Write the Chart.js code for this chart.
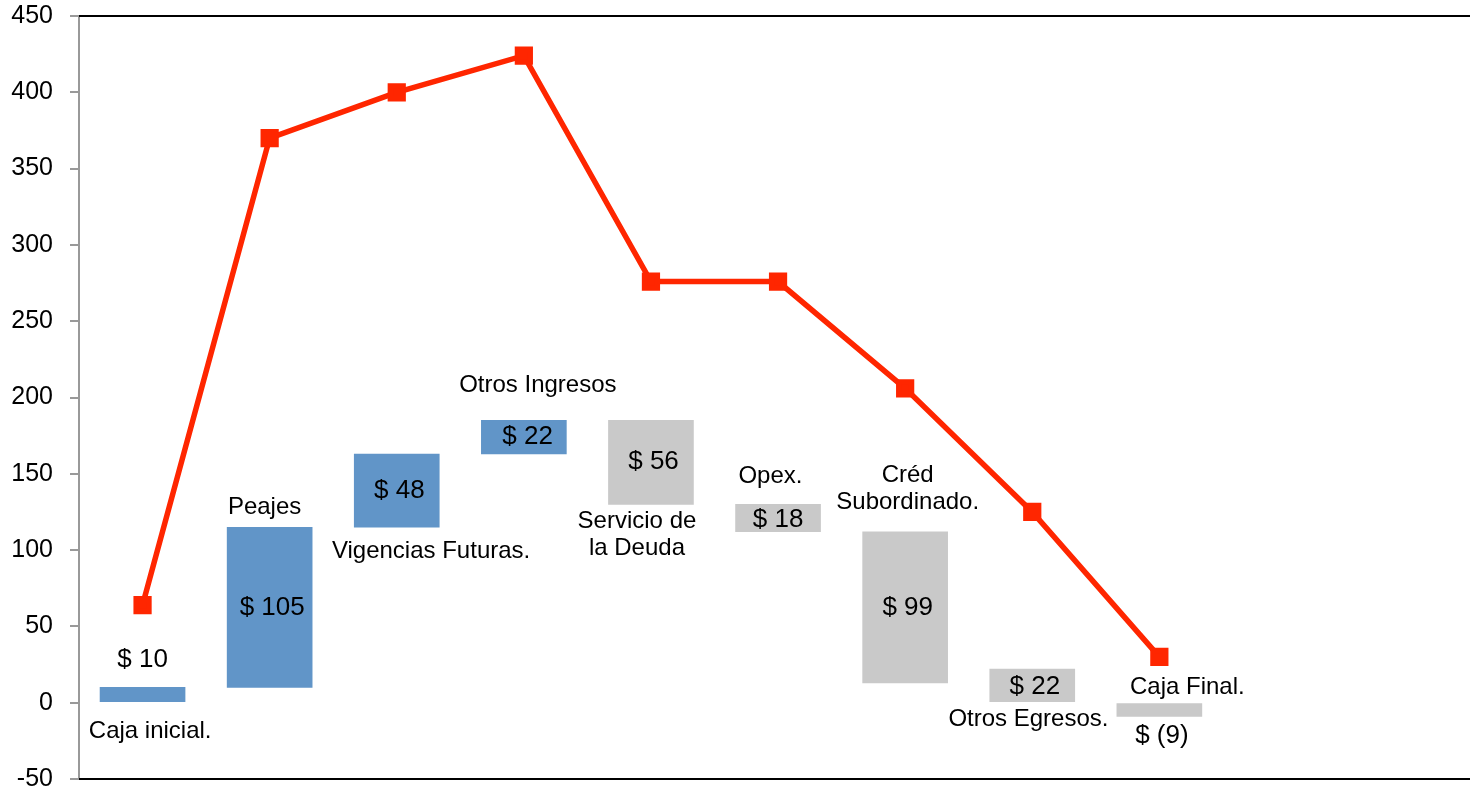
<!DOCTYPE html>
<html>
<head>
<meta charset="utf-8">
<script src="https://cdn.jsdelivr.net/npm/chart.js@4"></script>
<style>
  html, body { margin: 0; padding: 0; background: #fff; overflow: hidden; }
  #wrap { position: relative; width: 1470px; height: 792px; overflow: hidden; }
  #cashChart { position: absolute; left: 0; top: -16px; }
</style>
</head>
<body>
<div id="wrap"><canvas id="cashChart" width="1470" height="827"></canvas></div>
<script>
// datos del gráfico
const categories = ['Caja inicial.', 'Peajes', 'Vigencias Futuras.', 'Otros Ingresos', 'Servicio de\nla Deuda', 'Opex.', 'Créd\nSubordinado.', 'Otros Egresos.', 'Caja Final.'];
const barLow  = [0, 10, 115, 163, 130, 112, 13, 0, -9];
const barHigh = [10, 115, 163, 185, 185, 130, 112, 22, 0];
const valueLabels = ['$ 10', '$ 105', '$ 48', '$ 22', '$ 56', '$ 18', '$ 99', '$ 22', '$ (9)'];
const cumulative = [64, 370, 400, 424, 276, 276, 206, 125, 30];
const isIncome = [true, true, true, true, false, false, false, false, false];
const yMin = -50, yMax = 450, yStep = 50;
const xMin = -0.5, xMax = 10.33;

// posición de las etiquetas (desplazamiento en categorías, valor en eje y)
const nameAt  = [[0.06, -19], [-0.04, 128], [0.27, 99], [0.11, 208], [-0.11, 110], [-0.06, 148], [0.02, 140], [-0.03, -11], [0.22, 10]];
const valueAt = [[0, 28], [0.02, 62], [0.02, 139], [0.03, 174], [0.02, 158], [0, 120], [0.02, 62], [0.02, 10.5], [0.02, -22]];

const blue = '#6195C8';
const gray = '#C9C9C9';
const red = '#FF2600';
const fontFamily = '"Liberation Sans", Arial, sans-serif';

// etiquetas de texto sobre el gráfico
const textPlugin = {
    id: 'waterfallText',
    afterDatasetsDraw(chart) {
        const ctx = chart.ctx;
        const x = chart.scales.x;
        const y = chart.scales.y;
        ctx.save();
        ctx.fillStyle = '#000';
        ctx.textAlign = 'center';
        ctx.textBaseline = 'middle';
        const cw = x.getPixelForValue(1) - x.getPixelForValue(0);
        categories.forEach((name, i) => {
            const cx = x.getPixelForValue(i);
            const lines = name.split('\n');
            const ny = y.getPixelForValue(nameAt[i][1]);
            ctx.font = '24px ' + fontFamily;
            lines.forEach((ln, k) => {
                ctx.fillText(ln, cx + nameAt[i][0] * cw, ny + (k - (lines.length - 1) / 2) * 27);
            });
            ctx.font = '26px ' + fontFamily;
            ctx.fillText(valueLabels[i], cx + valueAt[i][0] * cw, y.getPixelForValue(valueAt[i][1]));
        });
        ctx.restore();
    },
    afterDraw(chart) {
        const a = chart.chartArea;
        const ctx = chart.ctx;
        // bordes superior e inferior del área
        ctx.save();
        ctx.strokeStyle = '#000';
        ctx.lineWidth = 2;
        ctx.beginPath();
        ctx.moveTo(a.left, a.top);
        ctx.lineTo(chart.width, a.top);
        ctx.moveTo(a.left, a.bottom);
        ctx.lineTo(chart.width, a.bottom);
        ctx.stroke();
        ctx.restore();
    }
};

const ctx = document.getElementById('cashChart').getContext('2d');
const chart = new Chart(ctx, {
    type: 'bar',
    data: {
        datasets: [
            {
                type: 'line',
                label: 'Caja acumulada',
                data: cumulative.map((v, i) => ({ x: i, y: v })),
                borderColor: red,
                backgroundColor: red,
                borderWidth: 5.5,
                pointStyle: 'rect',
                pointRadius: 9,
                pointHoverRadius: 9,
                tension: 0,
                order: 0
            },
            {
                type: 'bar',
                label: 'Flujo',
                data: barLow.map((v, i) => ({ x: i, y: [v, barHigh[i]] })),
                backgroundColor: isIncome.map(b => b ? blue : gray),
                borderWidth: 0,
                barThickness: 85,
                order: 1
            }
        ]
    },
    options: {
        responsive: false,
        animation: false,
        layout: { padding: 0 },
        plugins: {
            legend: { display: false },
            tooltip: { enabled: false }
        },
        scales: {
            x: { type: 'linear', display: false, min: xMin, max: xMax, offset: false },
            y: {
                min: yMin,
                max: yMax,
                ticks: {
                    stepSize: yStep,
                    color: '#000',
                    padding: 17,
                    font: { family: fontFamily, size: 25 }
                },
                grid: { drawOnChartArea: false, drawTicks: true, tickLength: 9, color: '#999', lineWidth: 2 },
                border: { color: '#999', width: 2 },
                afterFit(scale) { scale.width = 79; }
            }
        }
    },
    plugins: [textPlugin]
});
</script>
</body>
</html>
